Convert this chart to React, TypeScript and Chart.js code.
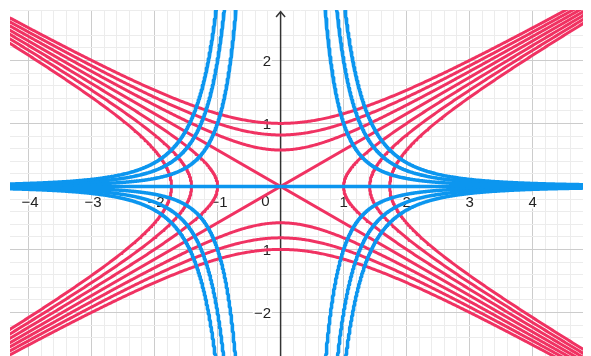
import { useEffect, useRef } from 'react';
import { Chart, registerables } from 'chart.js';

Chart.register(...registerables);

// Visible window of the plane
const X_MIN = -4.295;
const X_MAX = 4.927;
const Y_MIN = -2.692;
const Y_MAX = 2.8;

// Levels c of the hyperbola family x² − 3y² = c
const hyperbolaLevels = [-3, -2, -1, 0, 1, 2, 3];
// Constants k of the orthogonal family y = k / x³
const trajectoryConstants = [-3, -2, -1, 0, 1, 2, 3];

// Axis tick labels
const xTickValues = [-4, -3, -2, -1, 1, 2, 3, 4];
const xTickLabels = ['−4', '−3', '−2', '−1', '1', '2', '3', '4'];
const yTickValues = [-2, -1, 1, 2];
const yTickLabels = ['−2', '−1', '1', '2'];
const originLabel = '0';

const RED = '#f03262';
const BLUE = '#0c96ef';
const SAMPLES = 500;

type Pt = { x: number; y: number };

// Branches of x² − 3y² = c
function hyperbolaBranches(c: number): Pt[][] {
  const branches: Pt[][] = [];
  if (c < 0) {
    // upper / lower branch, y as a function of x
    for (const s of [1, -1]) {
      const pts: Pt[] = [];
      for (let i = 0; i <= SAMPLES; i++) {
        const x = X_MIN + ((X_MAX - X_MIN) * i) / SAMPLES;
        pts.push({ x, y: s * Math.sqrt((x * x - c) / 3) });
      }
      branches.push(pts);
    }
  } else if (c > 0) {
    // right / left branch, x as a function of y
    const y0 = Y_MIN - 0.3;
    const y1 = Y_MAX + 0.3;
    for (const s of [1, -1]) {
      const pts: Pt[] = [];
      for (let i = 0; i <= SAMPLES; i++) {
        const y = y0 + ((y1 - y0) * i) / SAMPLES;
        pts.push({ x: s * Math.sqrt(c + 3 * y * y), y });
      }
      branches.push(pts);
    }
  } else {
    // degenerate level: the two asymptotes
    for (const s of [1, -1]) {
      branches.push([
        { x: X_MIN, y: (s * X_MIN) / Math.sqrt(3) },
        { x: X_MAX, y: (s * X_MAX) / Math.sqrt(3) },
      ]);
    }
  }
  return branches;
}

// Branches of y = k / x³
function trajectoryBranches(k: number): Pt[][] {
  if (k === 0) {
    return [[{ x: X_MIN, y: 0 }, { x: X_MAX, y: 0 }]];
  }
  const branches: Pt[][] = [];
  for (const side of [1, -1]) {
    const xEnd = side > 0 ? X_MAX : -X_MIN;
    const xStart = Math.cbrt(Math.abs(k) / 4);
    const ratio = Math.pow(xEnd / xStart, 1 / SAMPLES);
    const pts: Pt[] = [];
    for (let i = 0; i <= SAMPLES; i++) {
      const ax = xStart * Math.pow(ratio, i);
      const x = side * ax;
      pts.push({ x, y: k / (x * x * x) });
    }
    branches.push(pts);
  }
  return branches;
}

const lineBase = {
  showLine: true,
  pointRadius: 0,
  pointHoverRadius: 0,
  fill: false,
  tension: 0,
  clip: 0,
  borderCapStyle: 'round' as const,
  borderJoinStyle: 'round' as const,
};

function buildDatasets() {
  const sets: any[] = [];
  trajectoryConstants.forEach((k) =>
    trajectoryBranches(k).forEach((pts) =>
      sets.push({ ...lineBase, data: pts, borderColor: BLUE, borderWidth: 3.5, order: 0 })
    )
  );
  hyperbolaLevels.forEach((c) =>
    hyperbolaBranches(c).forEach((pts) =>
      sets.push({ ...lineBase, data: pts, borderColor: RED, borderWidth: 3, order: 1 })
    )
  );
  return sets;
}

const near = (v: number, step: number) => Math.abs(v / step - Math.round(v / step)) < 1e-6;

// Major lines every unit, minor lines every fifth of a unit; the axes are drawn separately
const gridColor = (ctx: any) => {
  const v = ctx.tick ? ctx.tick.value : NaN;
  if (Math.abs(v) < 1e-9) return 'rgba(0,0,0,0)';
  if (near(v, 1)) return '#cccccc';
  if (near(v, 0.2)) return '#ececec';
  return 'rgba(0,0,0,0)';
};

// Axes, arrow tip of the vertical axis and the number labels
const axisDecor = {
  id: 'axisDecor',
  beforeDatasetsDraw(chart: any) {
    const { ctx, chartArea, scales } = chart;
    const xs = scales.x;
    const ys = scales.y;
    const ox = xs.getPixelForValue(0);
    const oy = ys.getPixelForValue(0);
    ctx.save();

    ctx.strokeStyle = '#333333';
    ctx.lineWidth = 1.5;
    ctx.beginPath();
    ctx.moveTo(chartArea.left, oy);
    ctx.lineTo(chartArea.right, oy);
    ctx.moveTo(ox, chartArea.top + 1.7);
    ctx.lineTo(ox, chartArea.bottom);
    ctx.stroke();

    ctx.beginPath();
    ctx.moveTo(ox - 4.5, chartArea.top + 7);
    ctx.lineTo(ox, chartArea.top + 1.7);
    ctx.lineTo(ox + 4.5, chartArea.top + 7);
    ctx.stroke();

    ctx.font = '15px "Liberation Sans", Arial, sans-serif';
    ctx.lineJoin = 'round';
    ctx.lineWidth = 4;
    ctx.strokeStyle = '#ffffff';
    ctx.fillStyle = '#222222';
    ctx.textBaseline = 'alphabetic';
    const put = (t: string, px: number, py: number) => {
      ctx.strokeText(t, px, py);
      ctx.fillText(t, px, py);
    };

    ctx.textAlign = 'center';
    xTickValues.forEach((v, i) => {
      put(xTickLabels[i], xs.getPixelForValue(v) + (v < 0 ? 1.5 : 0), oy + 20.5);
    });

    ctx.textAlign = 'right';
    yTickValues.forEach((v, i) => {
      put(yTickLabels[i], ox - 9.5, ys.getPixelForValue(v) + 5.4);
    });
    put(originLabel, ox - 11, oy + 19.5);

    ctx.restore();
  },
};

export default function App() {
  const ref = useRef<HTMLCanvasElement>(null);

  useEffect(() => {
    if (!ref.current) return;
    const chart = new Chart(ref.current, {
      type: 'scatter',
      data: { datasets: buildDatasets() },
      options: {
        animation: false,
        responsive: false,
        events: [],
        layout: { padding: { left: 2, top: 2, right: 0, bottom: 0 } },
        plugins: { legend: { display: false }, tooltip: { enabled: false } },
        scales: {
          x: {
            type: 'linear',
            min: X_MIN,
            max: X_MAX,
            ticks: { display: false, stepSize: 0.2, autoSkip: false },
            border: { display: false },
            grid: { color: gridColor, lineWidth: 1, drawTicks: false },
          },
          y: {
            type: 'linear',
            min: Y_MIN,
            max: Y_MAX,
            ticks: { display: false, stepSize: 0.2, autoSkip: false },
            border: { display: false },
            grid: { color: gridColor, lineWidth: 1, drawTicks: false },
          },
        },
      },
      plugins: [axisDecor],
    });
    return () => chart.destroy();
  }, []);

  return (
    <div style={{ width: 583, height: 348 }}>
      <canvas ref={ref} width={583} height={348} style={{ display: 'block' }} />
    </div>
  );
}
